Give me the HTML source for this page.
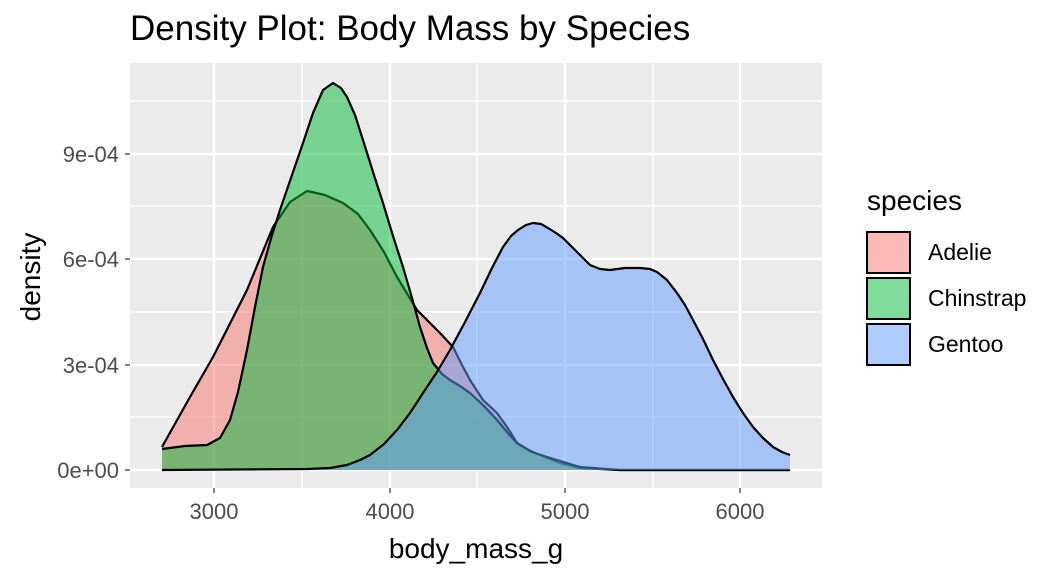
<!DOCTYPE html>
<html><head><meta charset="utf-8"><style>
body{margin:0;background:#fff;font-family:"Liberation Sans",sans-serif}
svg{display:block}
</style></head><body>
<svg width="1056" height="576" xmlns="http://www.w3.org/2000/svg" font-family="Liberation Sans, sans-serif">
<rect width="1056" height="576" fill="#fff"/>
<rect x="130" y="63" width="692" height="425" fill="#EBEBEB"/>
<g stroke="#fff" stroke-width="1.2">
<line x1="130" x2="822" y1="417" y2="417"/><line x1="130" x2="822" y1="312" y2="312"/><line x1="130" x2="822" y1="206" y2="206"/><line x1="130" x2="822" y1="101" y2="101"/>
<line x1="302" x2="302" y1="63" y2="488"/><line x1="477" x2="477" y1="63" y2="488"/><line x1="653" x2="653" y1="63" y2="488"/>
</g>
<g stroke="#fff" stroke-width="2.4">
<line x1="130" x2="822" y1="470" y2="470"/><line x1="130" x2="822" y1="365" y2="365"/><line x1="130" x2="822" y1="259" y2="259"/><line x1="130" x2="822" y1="154" y2="154"/>
<line x1="214" x2="214" y1="63" y2="488"/><line x1="390" x2="390" y1="63" y2="488"/><line x1="565" x2="565" y1="63" y2="488"/><line x1="740" x2="740" y1="63" y2="488"/>
</g>
<g stroke-linejoin="round" fill-opacity="0.5">
<path fill="#F8766D" d="M162,447 L190,397 L213,357 L247,290 L273,227 L290,202 L307,191 L325,195 L343,203 L358,214 L370,230 L384,252 L397,277 L417,310 L440,333 L453,347 L462,365 L470,380 L483,400 L497,413 L507,427 L517,443 L528,450 L540,455 L560,463 L580,468 L620,470 L790,470 L790,470 L162,470 Z"/>
<path fill="none" stroke="#000" stroke-width="2.2" d="M162,447 L190,397 L213,357 L247,290 L273,227 L290,202 L307,191 L325,195 L343,203 L358,214 L370,230 L384,252 L397,277 L417,310 L440,333 L453,347 L462,365 L470,380 L483,400 L497,413 L507,427 L517,443 L528,450 L540,455 L560,463 L580,468 L620,470 L790,470"/>
<path fill="#00BA38" d="M162,449 L185,446 L207,445 L220,438 L230,420 L238,392 L247,350 L255,307 L263,267 L272,235 L280,210 L292,175 L303,143 L313,113 L323,90 L333,83 L341,88 L347,97 L355,115 L363,140 L373,172 L383,203 L393,236 L403,267 L412,298 L420,327 L427,348 L433,363 L442,374 L450,380 L460,386 L470,393 L484,406 L497,420 L507,432 L517,443 L532,452 L547,457 L580,467 L620,470 L790,470 L162,470 Z"/>
<path fill="none" stroke="#000" stroke-width="2.2" d="M162,449 L185,446 L207,445 L220,438 L230,420 L238,392 L247,350 L255,307 L263,267 L272,235 L280,210 L292,175 L303,143 L313,113 L323,90 L333,83 L341,88 L347,97 L355,115 L363,140 L373,172 L383,203 L393,236 L403,267 L412,298 L420,327 L427,348 L433,363 L442,374 L450,380 L460,386 L470,393 L484,406 L497,420 L507,432 L517,443 L532,452 L547,457 L580,467 L620,470 L790,470"/>
<path fill="#619CFF" d="M162,470 L307,469 L330,468 L347,465 L360,460 L370,455 L384,444 L397,430 L410,413 L423,393 L437,372 L450,350 L465,322 L480,293 L492,268 L503,247 L511,236 L518,230 L526,225 L533,223 L541,224 L548,228 L556,233 L563,238 L577,252 L590,265 L600,269 L610,270 L625,268 L640,268 L650,269 L657,272 L667,280 L677,293 L685,305 L693,320 L703,339 L713,360 L723,379 L733,397 L743,413 L753,427 L763,438 L773,447 L782,452 L790,455 L790,470 L162,470 Z"/>
<path fill="none" stroke="#000" stroke-width="2.2" d="M162,470 L307,469 L330,468 L347,465 L360,460 L370,455 L384,444 L397,430 L410,413 L423,393 L437,372 L450,350 L465,322 L480,293 L492,268 L503,247 L511,236 L518,230 L526,225 L533,223 L541,224 L548,228 L556,233 L563,238 L577,252 L590,265 L600,269 L610,270 L625,268 L640,268 L650,269 L657,272 L667,280 L677,293 L685,305 L693,320 L703,339 L713,360 L723,379 L733,397 L743,413 L753,427 L763,438 L773,447 L782,452 L790,455"/>
</g>
<g font-size="22" fill="#4D4D4D" text-anchor="end">
<text x="119" y="478">0e+00</text><text x="119" y="373">3e-04</text><text x="119" y="267">6e-04</text><text x="119" y="162">9e-04</text>
</g>
<g stroke="#333" stroke-width="1.2">
<line x1="125" x2="130" y1="470" y2="470"/><line x1="125" x2="130" y1="365" y2="365"/><line x1="125" x2="130" y1="259" y2="259"/><line x1="125" x2="130" y1="154" y2="154"/>
<line x1="214" x2="214" y1="488" y2="493"/><line x1="390" x2="390" y1="488" y2="493"/><line x1="565" x2="565" y1="488" y2="493"/><line x1="740" x2="740" y1="488" y2="493"/>
</g>
<g font-size="22" fill="#4D4D4D" text-anchor="middle">
<text x="214" y="519">3000</text><text x="390" y="519">4000</text><text x="565" y="519">5000</text><text x="740" y="519">6000</text>
</g>
<text x="476" y="558" font-size="28" text-anchor="middle">body_mass_g</text>
<text transform="translate(40,277) rotate(-90)" font-size="28" text-anchor="middle">density</text>
<text x="130" y="40" font-size="35">Density Plot: Body Mass by Species</text>
<text x="867" y="210" font-size="28">species</text>
<rect x="867" y="232" width="43" height="41" fill="#F8766D" fill-opacity="0.5" stroke="#000" stroke-width="2"/>
<rect x="867" y="278" width="43" height="41" fill="#00BA38" fill-opacity="0.5" stroke="#000" stroke-width="2"/>
<rect x="867" y="324" width="43" height="41" fill="#619CFF" fill-opacity="0.5" stroke="#000" stroke-width="2"/>
<g font-size="23"><text x="928" y="260">Adelie</text><text x="928" y="306">Chinstrap</text><text x="928" y="352">Gentoo</text></g>
</svg>
</body></html>
